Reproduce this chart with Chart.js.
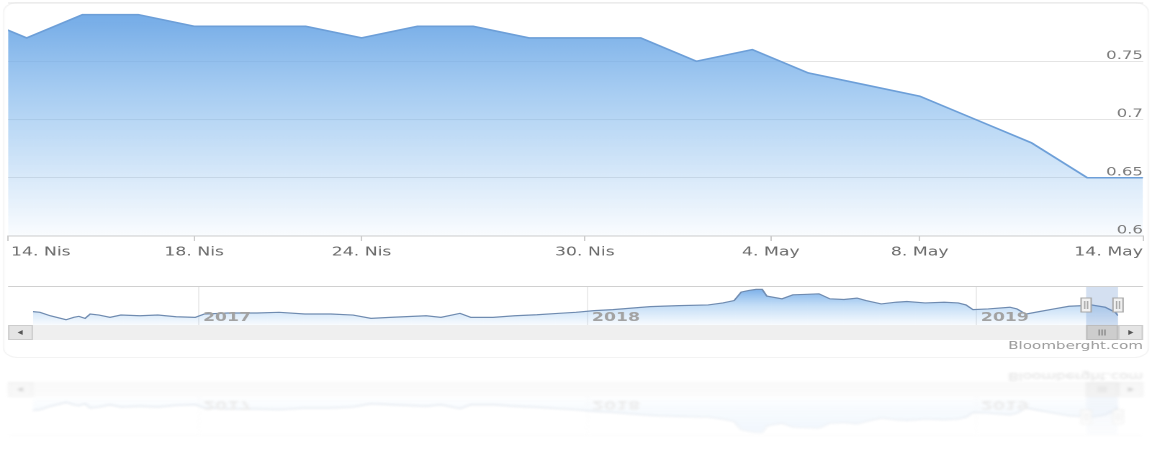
<!DOCTYPE html>
<html>
<head>
<meta charset="utf-8">
<script src="https://cdn.jsdelivr.net/npm/chart.js@4.4.1/dist/chart.umd.min.js"></script>
<style>
  html, body { margin: 0; padding: 0; background: #fff; }
  body { width: 1152px; height: 450px; overflow: hidden; position: relative; }
  /* the reference is a horizontally stretched screenshot, so draw at 800px and stretch */
  #stage { position: absolute; left: 0; top: 0; width: 800px; height: 450px; transform: scaleX(1.44); transform-origin: 0 0; }
  #frame { position: absolute; left: 2px; top: 2px; width: 796px; height: 356px; border: 1px solid #f3f3f3; border-radius: 10px; box-sizing: border-box; }
  .block { position: absolute; left: 0; width: 800px; }
  #mainBox { top: 0; height: 265px; }
  #navBox { top: 282px; height: 72px; }
  #reflBox { top: 368px; height: 72px; transform: scaleY(-1); opacity: 0.35; filter: blur(1px);
             -webkit-mask-image: linear-gradient(to bottom, rgba(0,0,0,0.2), #000); mask-image: linear-gradient(to bottom, rgba(0,0,0,0.2), #000); }
</style>
</head>
<body>
<div id="stage">
  <div id="frame"></div>
  <div class="block" id="mainBox"><canvas id="mainChart" width="800" height="265"></canvas></div>
  <div class="block" id="navBox"><canvas id="navChart" width="800" height="72"></canvas></div>
  <div class="block" id="reflBox"><canvas id="reflChart" width="800" height="72"></canvas></div>
</div>
<script>
/* ------------------------------------------------------------
   DATA
------------------------------------------------------------ */
// trading days shown in the main chart (index on the x axis)
const tradingDays = ["12 Nis", "15 Nis", "16 Nis", "17 Nis", "18 Nis", "19 Nis", "22 Nis", "24 Nis",
                     "25 Nis", "26 Nis", "29 Nis", "30 Nis", "1 May", "2 May", "3 May", "6 May",
                     "7 May", "8 May", "9 May", "10 May", "13 May", "14 May"];
const dayValues = [0.79, 0.77, 0.79, 0.79, 0.78, 0.78, 0.78, 0.77, 0.78, 0.78, 0.77,
                   0.77, 0.77, 0.75, 0.76, 0.74, 0.73, 0.72, 0.70, 0.68, 0.65, 0.65];

// x tick positions in trading-day index (weekend dates fall between days)
const dayTicks = [0.667, 4, 7, 11, 14.333, 17, 21];
const dayTickLabels = ["14. Nis", "18. Nis", "24. Nis", "30. Nis", "4. May", "8. May", "14. May"];
const yTicks = [0.6, 0.65, 0.7, 0.75, 0.8];

// navigator: long history, dates as decimal years
const navDates = [2016.574, 2016.592, 2016.618, 2016.659, 2016.679, 2016.692, 2016.708, 2016.721, 2016.744,
                  2016.772, 2016.800, 2016.849, 2016.895, 2016.942, 2016.991,
                  2017.014, 2017.075, 2017.150, 2017.207, 2017.273, 2017.340, 2017.397, 2017.443, 2017.492,
                  2017.528, 2017.585, 2017.623, 2017.672, 2017.700, 2017.757, 2017.813, 2017.870, 2017.927, 2017.970,
                  2018.017, 2018.065, 2018.161, 2018.235, 2018.310, 2018.348, 2018.377, 2018.395, 2018.415,
                  2018.433, 2018.449, 2018.461, 2018.500, 2018.528, 2018.557, 2018.595, 2018.623, 2018.659,
                  2018.693, 2018.716, 2018.755, 2018.793, 2018.821, 2018.868, 2018.917, 2018.953, 2018.973, 2018.991,
                  2019.030, 2019.086, 2019.104, 2019.127, 2019.161, 2019.199, 2019.238, 2019.274, 2019.295,
                  2019.331, 2019.357, 2019.364];
const navValues = [0.703, 0.694, 0.650, 0.598, 0.629, 0.642, 0.616, 0.672, 0.659, 0.629, 0.659, 0.650, 0.659, 0.637, 0.629,
                   0.672, 0.685, 0.685, 0.694, 0.672, 0.672, 0.659, 0.616, 0.629, 0.637, 0.650, 0.629, 0.681, 0.629,
                   0.629, 0.650, 0.663, 0.681, 0.694,
                   0.716, 0.729, 0.768, 0.781, 0.790, 0.816, 0.847, 0.956, 0.978, 0.991, 0.991, 0.904, 0.869, 0.921,
                   0.926, 0.934, 0.869, 0.860, 0.878, 0.847, 0.803, 0.825, 0.834, 0.816, 0.825, 0.816, 0.790, 0.729,
                   0.738, 0.760, 0.738, 0.672, 0.703, 0.738, 0.773, 0.781, 0.790, 0.760, 0.694, 0.650];
const navYears = [2017, 2018, 2019];
const selRange = [2019.282, 2019.364];   // 14 Nis - 14 May
const creditText = "Bloomberght.com";

const FONT = "'DejaVu Sans', Verdana, sans-serif";
Chart.defaults.font.family = FONT;


/* ------------------------------------------------------------
   PLUGINS
------------------------------------------------------------ */
const axisLabels = {
    id: "axisLabels",
    afterDraw(chart) {
        const { ctx, chartArea: a, scales: { x, y } } = chart;
        ctx.save();
        ctx.font = "12px " + FONT;
        ctx.fillStyle = "#6a6a6a";
        ctx.textBaseline = "alphabetic";
        dayTicks.forEach((t, i) => {
            const px = x.getPixelForValue(t);
            let tx = px;
            ctx.textAlign = "center";
            if (i === 0) { ctx.textAlign = "left"; tx = px + 2; }
            if (i === dayTicks.length - 1) { ctx.textAlign = "right"; tx = a.right; }
            ctx.fillText(dayTickLabels[i], tx, a.bottom + 19.5);
        });

        ctx.font = "11.5px " + FONT;
        ctx.fillStyle = "#7a7a7a";
        ctx.textAlign = "right";
        yTicks.forEach(v => {
            if (v >= 0.8) return;
            ctx.fillText(String(v), a.right, y.getPixelForValue(v) - 2.5);
        });
        ctx.restore();
    }
};

const navDecor = {
    id: "navDecor",
    afterDraw(chart) {
        const { ctx, chartArea: a, scales: { x } } = chart;
        const L = a.left - 17.3, R = a.right + 17.35;
        const x1 = x.getPixelForValue(selRange[0]);
        const x2 = x.getPixelForValue(selRange[1]);
        ctx.save();

        // year labels
        ctx.font = "bold 12px " + FONT;
        ctx.fillStyle = "#a2a2a2";
        ctx.textAlign = "left";
        navYears.forEach(yr => ctx.fillText(String(yr), x.getPixelForValue(yr) + 3, a.bottom - 4));

        // selected range
        ctx.fillStyle = "rgba(100,145,205,0.28)";
        ctx.fillRect(x1, a.top, x2 - x1, a.bottom - a.top);

        // outline on top
        ctx.strokeStyle = "#d0d0d0";
        ctx.lineWidth = 1;
        ctx.beginPath();
        ctx.moveTo(L, a.top + 0.5);
        ctx.lineTo(R, a.top + 0.5);
        ctx.stroke();

        // handles
        [x1, x2].forEach(hx => {
            ctx.fillStyle = "#f2f2f2";
            ctx.strokeStyle = "#a8a8a8";
            ctx.fillRect(hx - 3.5, 16, 7, 14);
            ctx.strokeRect(hx - 3.5, 16, 7, 14);
            ctx.beginPath();
            ctx.moveTo(hx - 1, 19); ctx.lineTo(hx - 1, 27);
            ctx.moveTo(hx + 1, 19); ctx.lineTo(hx + 1, 27);
            ctx.stroke();
        });

        // scrollbar
        const sy = a.bottom, sh = 15;
        ctx.fillStyle = "#efefef";
        ctx.fillRect(L, sy, R - L, sh);
        ctx.fillStyle = "#e4e4e4";
        ctx.strokeStyle = "#cccccc";
        ctx.fillRect(L, sy, a.left - L, sh);
        ctx.strokeRect(L + 0.5, sy + 0.5, a.left - L - 1, sh - 1);
        ctx.fillRect(a.right, sy, R - a.right, sh);
        ctx.strokeRect(a.right + 0.5, sy + 0.5, R - a.right - 1, sh - 1);

        ctx.fillStyle = "#555";
        let cx = (L + a.left) / 2, cy = sy + sh / 2;
        ctx.beginPath();
        ctx.moveTo(cx - 2, cy); ctx.lineTo(cx + 1.5, cy - 2.5); ctx.lineTo(cx + 1.5, cy + 2.5);
        ctx.fill();
        cx = (a.right + R) / 2;
        ctx.beginPath();
        ctx.moveTo(cx + 2, cy); ctx.lineTo(cx - 1.5, cy - 2.5); ctx.lineTo(cx - 1.5, cy + 2.5);
        ctx.fill();

        ctx.fillStyle = "#cdcdcd";
        ctx.strokeStyle = "#bdbdbd";
        ctx.fillRect(x1, sy, x2 - x1, sh);
        ctx.strokeRect(x1 + 0.5, sy + 0.5, x2 - x1 - 1, sh - 1);
        const gx = (x1 + x2) / 2;
        ctx.strokeStyle = "#8a8a8a";
        ctx.beginPath();
        [-2, 0, 2].forEach(d => { ctx.moveTo(gx + d, cy - 3); ctx.lineTo(gx + d, cy + 3); });
        ctx.stroke();

        // credit
        ctx.font = "10.5px " + FONT;
        ctx.fillStyle = "#9a9a9a";
        ctx.textAlign = "right";
        ctx.fillText(creditText, R, sy + 24);

        ctx.restore();
    }
};

function verticalGradient(context, stops) {
    const { ctx, chartArea } = context.chart;
    if (!chartArea) return null;
    const g = ctx.createLinearGradient(0, chartArea.top, 0, chartArea.bottom);
    stops.forEach(s => g.addColorStop(s[0], s[1]));
    return g;
}


/* ------------------------------------------------------------
   MAIN CHART
------------------------------------------------------------ */
new Chart(document.getElementById("mainChart"), {
    type: "line",
    data: {
        datasets: [{
            data: dayValues.map((v, i) => ({ x: i, y: v })),
            borderColor: "#6d9fd8",
            borderWidth: 1.6,
            pointRadius: 0,
            tension: 0,
            fill: "start",
            backgroundColor: c => verticalGradient(c, [
                [0, "rgba(108,166,229,1)"],
                [0.5, "rgba(124,181,236,0.55)"],
                [1, "rgba(124,181,236,0.04)"]
            ])
        }]
    },
    options: {
        responsive: false,
        devicePixelRatio: 2,
        animation: false,
        layout: { padding: { left: 5.6, right: 6.25, top: 3, bottom: 0 } },
        plugins: { legend: { display: false }, tooltip: { enabled: false } },
        scales: {
            x: {
                type: "linear",
                min: dayTicks[0],
                max: tradingDays.length - 1,
                afterBuildTicks: s => { s.ticks = dayTicks.map(v => ({ value: v })); },
                afterFit: s => { s.height = 29; },
                ticks: { display: false },
                grid: { drawOnChartArea: false, drawTicks: true, tickLength: 5, color: "#cccccc" },
                border: { display: true, color: "#cccccc" }
            },
            y: {
                position: "right",
                min: 0.6,
                max: 0.8,
                afterBuildTicks: s => { s.ticks = yTicks.map(v => ({ value: v })); },
                afterFit: s => { s.width = 0; },
                ticks: { display: false },
                grid: { color: "#e4e4e4", drawTicks: false },
                border: { display: false }
            }
        }
    },
    plugins: [axisLabels]
});


/* ------------------------------------------------------------
   NAVIGATOR (and its reflection)
------------------------------------------------------------ */
function makeNavigator(canvasID) {
    return new Chart(document.getElementById(canvasID), {
        type: "line",
        data: {
            datasets: [{
                data: navDates.map((d, i) => ({ x: d, y: navValues[i] })),
                borderColor: "#6f8bb0",
                borderWidth: 1.2,
                pointRadius: 0,
                tension: 0,
                fill: "start",
                backgroundColor: c => verticalGradient(c, [
                    [0, "rgba(100,160,228,0.95)"],
                    [0.5, "rgba(124,181,236,0.45)"],
                    [1, "rgba(124,181,236,0.05)"]
                ])
            }]
        },
        options: {
            responsive: false,
            devicePixelRatio: 2,
            animation: false,
            layout: { padding: { left: 22.9, right: 23.6, top: 4, bottom: 29 } },
            plugins: { legend: { display: false }, tooltip: { enabled: false } },
            scales: {
                x: {
                    type: "linear",
                    min: navDates[0],
                    max: navDates[navDates.length - 1],
                    afterBuildTicks: s => { s.ticks = navYears.map(v => ({ value: v })); },
                    afterFit: s => { s.height = 0; },
                    ticks: { display: false },
                    grid: { drawTicks: false, color: "#ececec" },
                    border: { display: false }
                },
                y: { display: false, min: 0.53, max: 1.035 }
            }
        },
        plugins: [navDecor]
    });
}

makeNavigator("navChart");
makeNavigator("reflChart");
</script>
</body>
</html>
